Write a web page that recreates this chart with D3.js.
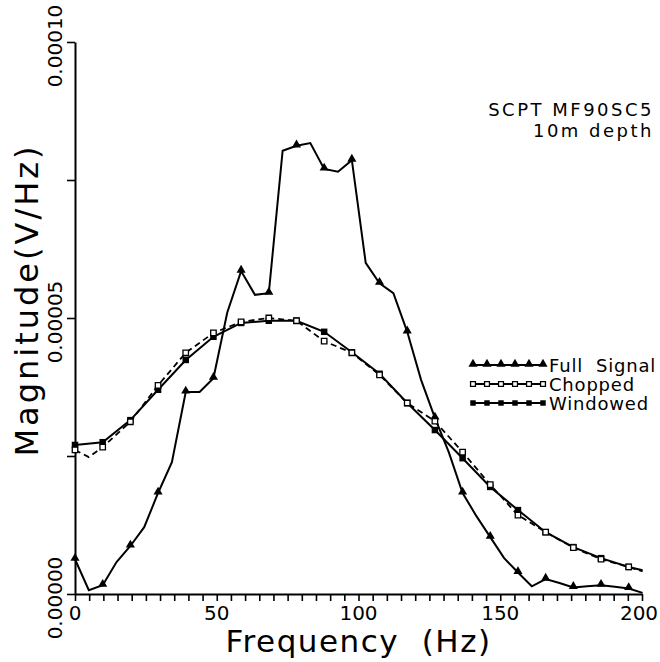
<!DOCTYPE html>
<html>
<head>
<meta charset="utf-8">
<script src="https://cdn.jsdelivr.net/npm/d3@7"></script>
<style>
  body { margin: 0; background: #fff; }
  text { font-family: "DejaVu Sans", sans-serif; fill: #000; }
</style>
</head>
<body>
<div id="chart"></div>
<script>
// frequency bins (Hz), spacing ~4.88 Hz
const freqHz = [0, 4.88, 9.77, 14.65, 19.53, 24.41, 29.30, 34.18, 39.06, 43.95,
  48.83, 53.71, 58.59, 63.48, 68.36, 73.24, 78.13, 83.01, 87.89, 92.77,
  97.66, 102.54, 107.42, 112.30, 117.19, 122.07, 126.95, 131.84, 136.72, 141.60,
  146.48, 151.37, 156.25, 161.13, 166.02, 170.90, 175.78, 180.66, 185.55, 190.43,
  195.31, 200.20];

// magnitudes in units of 1e-5 V/Hz
const fullSignal = [0.63, 0.07, 0.16, 0.58, 0.87, 1.21, 1.83, 2.39, 3.66, 3.66,
  3.91, 5.10, 5.85, 5.42, 5.45, 8.03, 8.12, 8.17, 7.70, 7.65,
  7.86, 6.00, 5.63, 5.45, 4.75, 3.88, 3.19, 2.57, 1.83, 1.41,
  1.03, 0.65, 0.39, 0.14, 0.27, 0.20, 0.12, 0.14, 0.16, 0.13,
  0.10, 0.02];

const windowedFreq = [0, 9.77, 19.53, 29.30, 39.06, 48.83, 58.59, 68.36, 78.13, 87.89,
  97.66, 107.42, 117.19, 126.95, 136.72, 146.48, 156.25, 166.02, 175.78, 185.55,
  195.31, 200.20];
const windowed = [2.70, 2.75, 3.15, 3.70, 4.24, 4.66, 4.91, 4.95, 4.95, 4.75,
  4.38, 3.99, 3.46, 2.97, 2.46, 1.94, 1.52, 1.12, 0.85, 0.65,
  0.49, 0.43];

const choppedFreq = [0, 4.88, 9.77, 19.53, 29.30, 39.06, 48.83, 58.59, 68.36, 78.13,
  87.89, 97.66, 107.42, 117.19, 126.95, 136.72, 146.48, 156.25, 166.02, 175.78,
  185.55, 195.31, 200.20];
const chopped = [2.61, 2.48, 2.66, 3.12, 3.78, 4.37, 4.73, 4.93, 5.00, 4.95,
  4.58, 4.37, 3.97, 3.46, 3.13, 2.57, 1.98, 1.43, 1.12, 0.84,
  0.63, 0.49, 0.41];

const xTickLabels = [0, 50, 100, 150, 200];
const yTickLabels = [0, 5, 10];
const legendNames = ["Full  Signal", "Chopped", "Windowed"];

const W = 660, H = 662;
const m = {left: 75, right: 18, top: 42, bottom: 68};

const svg = d3.select("#chart").append("svg")
    .attr("width", W).attr("height", H)
    .style("background", "white");

const x = d3.scaleLinear().domain([0, 200]).range([m.left, W - m.right]);
const y = d3.scaleLinear().domain([0, 10]).range([H - m.bottom, m.top]);

// axes (ticks only, labels drawn separately)
const xAxis = svg.append("g")
    .attr("transform", `translate(0,${y(0)})`)
    .call(d3.axisBottom(x).tickValues(d3.range(0, 201, 5)).tickSize(7).tickSizeOuter(0).tickFormat(""));
const yAxis = svg.append("g")
    .attr("transform", `translate(${x(0)},0)`)
    .call(d3.axisLeft(y).tickValues(d3.range(0, 10.01, 2.5)).tickSize(8).tickSizeOuter(0).tickFormat(""));
[xAxis, yAxis].forEach(g => {
    g.select(".domain").attr("stroke", "#000").attr("stroke-width", 2);
    g.selectAll(".tick line").attr("stroke", "#000").attr("stroke-width", 1.6);
});

svg.append("g").selectAll("text")
    .data(xTickLabels)
    .join("text")
    .attr("x", d => x(d) - (d === 200 ? 3 : 0))
    .attr("y", y(0) + 26)
    .attr("text-anchor", "middle")
    .style("font-size", "20px")
    .text(d => d);

svg.append("g").selectAll("text")
    .data(yTickLabels)
    .join("text")
    .attr("transform", d => `translate(${x(0) - 13},${y(d) + 4}) rotate(-90)`)
    .attr("text-anchor", "middle")
    .style("font-size", "20px")
    .text(d => (d * 1e-5).toFixed(5));

// axis titles
svg.append("text")
    .attr("x", (x(0) + x(200)) / 2)
    .attr("y", 652)
    .attr("text-anchor", "middle")
    .style("font-size", "31px")
    .style("letter-spacing", "1.5px")
    .style("white-space", "pre")
    .text("Frequency  (Hz)");

svg.append("text")
    .attr("transform", `translate(38,300) rotate(-90)`)
    .attr("text-anchor", "middle")
    .style("font-size", "32px")
    .style("letter-spacing", "3px")
    .text("Magnitude(V/Hz)");

// curves
const line = d3.line().x(d => x(d[0])).y(d => y(d[1]));
const fullPts = freqHz.map((f, i) => [f, fullSignal[i]]);
const winPts = windowedFreq.map((f, i) => [f, windowed[i]]);
const chopPts = choppedFreq.map((f, i) => [f, chopped[i]]);

svg.append("path").datum(chopPts)
    .attr("d", line).attr("fill", "none").attr("stroke", "#000")
    .attr("stroke-width", 1.8).attr("stroke-dasharray", "6,4");
svg.append("path").datum(winPts)
    .attr("d", line).attr("fill", "none").attr("stroke", "#000").attr("stroke-width", 2);
svg.append("path").datum(fullPts)
    .attr("d", line).attr("fill", "none").attr("stroke", "#000").attr("stroke-width", 2);

const tri = d3.symbol().type(d3.symbolTriangle).size(36);
const sq = d3.symbol().type(d3.symbolSquare).size(42);

// markers every second bin
svg.append("g").selectAll("path")
    .data(fullPts.filter((d, i) => i % 2 === 0))
    .join("path")
    .attr("d", tri)
    .attr("transform", d => `translate(${x(d[0])},${y(d[1]) - 1})`)
    .attr("fill", "#000");

svg.append("g").selectAll("path")
    .data(winPts.filter(d => d[0] <= 196))
    .join("path")
    .attr("d", sq)
    .attr("transform", d => `translate(${x(d[0])},${y(d[1])})`)
    .attr("fill", "#000");

svg.append("g").selectAll("path")
    .data(chopPts.filter((d, i) => i !== 1 && d[0] <= 196))
    .join("path")
    .attr("d", d3.symbol().type(d3.symbolSquare).size(30))
    .attr("transform", d => `translate(${x(d[0])},${y(d[1])})`)
    .attr("fill", "#fff").attr("stroke", "#000").attr("stroke-width", 1.3);

// annotation
const note = svg.append("g").style("font-size", "18px").style("letter-spacing", "2.5px")
    .style("white-space", "pre");
note.append("text").attr("x", 654).attr("y", 116).attr("text-anchor", "end").text("SCPT  MF90SC5");
note.append("text").attr("x", 654).attr("y", 137).attr("text-anchor", "end").text("10m  depth");

// legend
const legX0 = 473, legX1 = 543, legY = [365, 384, 403];
const legMarks = d3.range(6).map(i => legX0 + i * (legX1 - legX0) / 5);
const leg = svg.append("g");
legendNames.forEach((name, k) => {
    const ly = legY[k];
    leg.append("line").attr("x1", legX0).attr("x2", legX1).attr("y1", ly).attr("y2", ly)
        .attr("stroke", "#000").attr("stroke-width", 2);
    leg.selectAll(null).data(legMarks).join("path")
        .attr("d", k === 0 ? tri : (k === 1 ? d3.symbol().type(d3.symbolSquare).size(24) : d3.symbol().type(d3.symbolSquare).size(30)))
        .attr("transform", d => `translate(${d},${ly - (k === 0 ? 1 : 0)})`)
        .attr("fill", k === 1 ? "#fff" : "#000")
        .attr("stroke", k === 1 ? "#000" : "none")
        .attr("stroke-width", 1.3);
    leg.append("text").attr("x", legX1 + 6).attr("y", ly + 7)
        .style("font-size", "18px").style("letter-spacing", "0.8px").style("white-space", "pre")
        .text(name);
});
</script>
</body>
</html>
